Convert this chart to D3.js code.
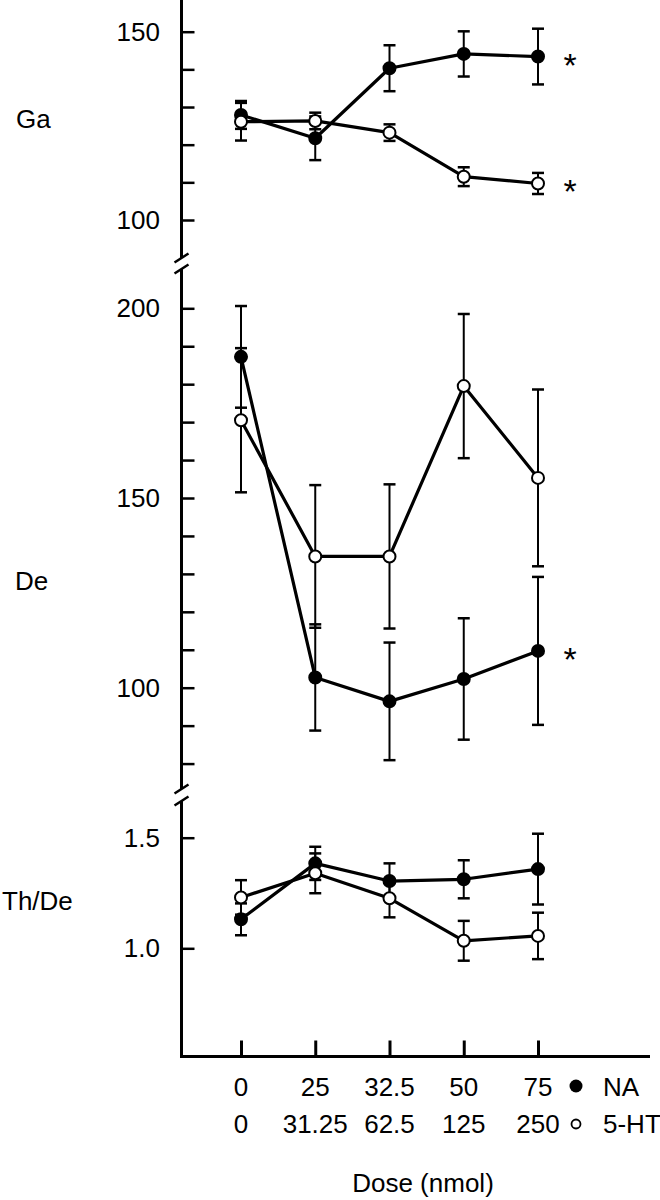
<!DOCTYPE html>
<html>
<head>
<meta charset="utf-8">
<script src="https://cdn.jsdelivr.net/npm/d3@7"></script>
<style>
  html, body { margin: 0; padding: 0; background: #fff; }
  svg { display: block; }
  text { font-family: "Liberation Sans", Arial, Helvetica, sans-serif; fill: #000; }
</style>
</head>
<body>
<svg id="chart" width="660" height="1200"></svg>
<script>
// ---- data ----
const doseNA = ["0", "25", "32.5", "50", "75"];
const doseHT = ["0", "31.25", "62.5", "125", "250"];

const gaNA    = [127.9, 121.7, 140.3, 144.1, 143.4];
const gaNAerr = [3.7, 5.8, 6.1, 6.0, 7.4];
const gaHT    = [126.1, 126.3, 123.2, 111.5, 109.7];
const gaHTerr = [5.0, 2.2, 2.2, 2.5, 2.8];

const deNA    = [187.2, 102.7, 96.4, 102.3, 109.7];
const deNAerr = [13.4, 14.0, 15.5, 16.0, 19.5];
const deHT    = [170.5, 134.6, 134.6, 179.5, 155.3];
const deHTerr = [19.0, 18.8, 19.0, 19.0, 23.3];

const thNA    = [1.131, 1.384, 1.304, 1.312, 1.358];
const thNAerr = [0.072, 0.075, 0.080, 0.086, 0.160];
const thHT    = [1.230, 1.339, 1.226, 1.034, 1.056];
const thHTerr = [0.078, 0.090, 0.086, 0.090, 0.105];

const gaTicks = [100, 110, 120, 130, 140, 150];
const gaLabels = [100, 150];
const deTicks = [80, 90, 100, 110, 120, 130, 140, 150, 160, 170, 180, 190, 200];
const deLabels = [100, 150, 200];
const thTicks = [1.0, 1.5];
const thLabels = [1.0, 1.5];

const panelNames = ["Ga", "De", "Th/De"];
const legendNames = ["NA", "5-HT"];
const xTitle = "Dose (nmol)";

// ---- layout ----
const svg = d3.select("#chart");
const axisX = 181.5;
const xAxisY = 1056.5;
const FS = 26;

const x = d3.scalePoint().domain(doseNA).range([241, 538]);

const panels = [
  { name: panelNames[0], y: d3.scaleLinear().domain([100, 150]).range([220, 31.7]),
    ticks: gaTicks, labels: gaLabels, fmt: d3.format("d"),
    na: gaNA, naErr: gaNAerr, ht: gaHT, htErr: gaHTerr,
    top: 0, bottom: 258, labelY: 128, labelX: 16,
    stars: [{ v: gaNA[4] }, { v: gaHT[4] }] },
  { name: panelNames[1], y: d3.scaleLinear().domain([100, 200]).range([687.7, 308.3]),
    ticks: deTicks, labels: deLabels, fmt: d3.format("d"),
    na: deNA, naErr: deNAerr, ht: deHT, htErr: deHTerr,
    top: 269, bottom: 789, labelY: 590, labelX: 15,
    stars: [{ v: deNA[4] }] },
  { name: panelNames[2], y: d3.scaleLinear().domain([1.0, 1.5]).range([948.3, 837.7]),
    ticks: thTicks, labels: thLabels, fmt: d3.format(".1f"),
    na: thNA, naErr: thNAerr, ht: thHT, htErr: thHTerr,
    top: 801, bottom: xAxisY, labelY: 910, labelX: 2,
    stars: [] }
];

// axis line segments
panels.forEach(p => {
  svg.append("line")
    .attr("x1", axisX).attr("x2", axisX)
    .attr("y1", p.top).attr("y2", p.bottom + (p.bottom === xAxisY ? 1.5 : 0))
    .attr("stroke", "#000").attr("stroke-width", 3);
});

// break marks
[[258, 269], [789, 801]].forEach(pair => {
  pair.forEach(yc => {
    svg.append("line")
      .attr("x1", axisX - 7).attr("y1", yc + 4.5)
      .attr("x2", axisX + 7).attr("y2", yc - 4.5)
      .attr("stroke", "#000").attr("stroke-width", 2.5);
  });
});

// y axes (ticks + labels)
panels.forEach(p => {
  const ax = d3.axisLeft(p.y)
    .tickValues(p.ticks)
    .tickSizeInner(-13).tickSizeOuter(0)
    .tickPadding(21.5)
    .tickFormat(d => p.labels.some(l => Math.abs(l - d) < 1e-9) ? p.fmt(d) : "");
  const g = svg.append("g").attr("transform", `translate(${axisX},0)`).call(ax);
  g.select(".domain").remove();
  g.selectAll(".tick line").attr("stroke", "#000").attr("stroke-width", 2.5);
  g.selectAll(".tick text")
    .attr("font-size", FS)
    .attr("font-family", "'Liberation Sans', Arial, sans-serif")
    .attr("fill", "#000");

  svg.append("text")
    .attr("x", p.labelX).attr("y", p.labelY)
    .attr("font-size", FS)
    .text(p.name);
});

// x axis
const xAxisG = svg.append("g").attr("transform", `translate(0,${xAxisY})`)
  .call(d3.axisTop(x).tickSizeInner(16).tickSizeOuter(0).tickFormat(""));
xAxisG.select(".domain").remove();
xAxisG.selectAll(".tick line").attr("stroke", "#000").attr("stroke-width", 3);
svg.append("line")
  .attr("x1", axisX - 1.5).attr("x2", 650)
  .attr("y1", xAxisY).attr("y2", xAxisY)
  .attr("stroke", "#000").attr("stroke-width", 3);

// x tick labels, two rows
svg.append("g").selectAll("text").data(doseNA).join("text")
  .attr("x", d => x(d)).attr("y", 1096)
  .attr("text-anchor", "middle").attr("font-size", FS)
  .text(d => d);
svg.append("g").selectAll("text").data(doseHT).join("text")
  .attr("x", (d, i) => x(doseNA[i])).attr("y", 1133)
  .attr("text-anchor", "middle").attr("font-size", FS)
  .text(d => d);

// legend
svg.append("circle").attr("cx", 576).attr("cy", 1086).attr("r", 6.5).attr("fill", "#000");
svg.append("text").attr("x", 603).attr("y", 1096).attr("font-size", FS).text(legendNames[0]);
svg.append("circle").attr("cx", 576).attr("cy", 1124).attr("r", 4.5)
  .attr("fill", "#fff").attr("stroke", "#000").attr("stroke-width", 1.8);
svg.append("text").attr("x", 603).attr("y", 1133).attr("font-size", FS).text(legendNames[1]);

// x title
svg.append("text").attr("x", 423).attr("y", 1192)
  .attr("text-anchor", "middle").attr("font-size", FS).text(xTitle);

// data
const line = (y) => d3.line().x((d, i) => x(doseNA[i])).y(d => y(d));
panels.forEach(p => {
  const series = [
    { vals: p.na, errs: p.naErr, fill: "#000" },
    { vals: p.ht, errs: p.htErr, fill: "#fff" }
  ];
  // error bars
  series.forEach(s => {
    const g = svg.append("g");
    s.vals.forEach((v, i) => {
      const cx = x(doseNA[i]);
      const y1 = p.y(v + s.errs[i]), y2 = p.y(v - s.errs[i]);
      g.append("line").attr("x1", cx).attr("x2", cx).attr("y1", y1).attr("y2", y2)
        .attr("stroke", "#000").attr("stroke-width", 2);
      [y1, y2].forEach(yy => {
        g.append("line").attr("x1", cx - 6).attr("x2", cx + 6).attr("y1", yy).attr("y2", yy)
          .attr("stroke", "#000").attr("stroke-width", 2.5);
      });
    });
  });
  // lines
  series.forEach(s => {
    svg.append("path").datum(s.vals)
      .attr("d", line(p.y))
      .attr("fill", "none").attr("stroke", "#000").attr("stroke-width", 3.2)
      .attr("stroke-linejoin", "round");
  });
  // markers
  series.forEach(s => {
    svg.append("g").selectAll("circle").data(s.vals).join("circle")
      .attr("cx", (d, i) => x(doseNA[i])).attr("cy", d => p.y(d))
      .attr("r", 6)
      .attr("fill", s.fill).attr("stroke", "#000").attr("stroke-width", 2);
  });
  // significance stars
  p.stars.forEach(st => {
    svg.append("text")
      .attr("x", 570).attr("y", p.y(st.v) + 20)
      .attr("text-anchor", "middle").attr("font-size", 34)
      .text("*");
  });
});
</script>
</body>
</html>
